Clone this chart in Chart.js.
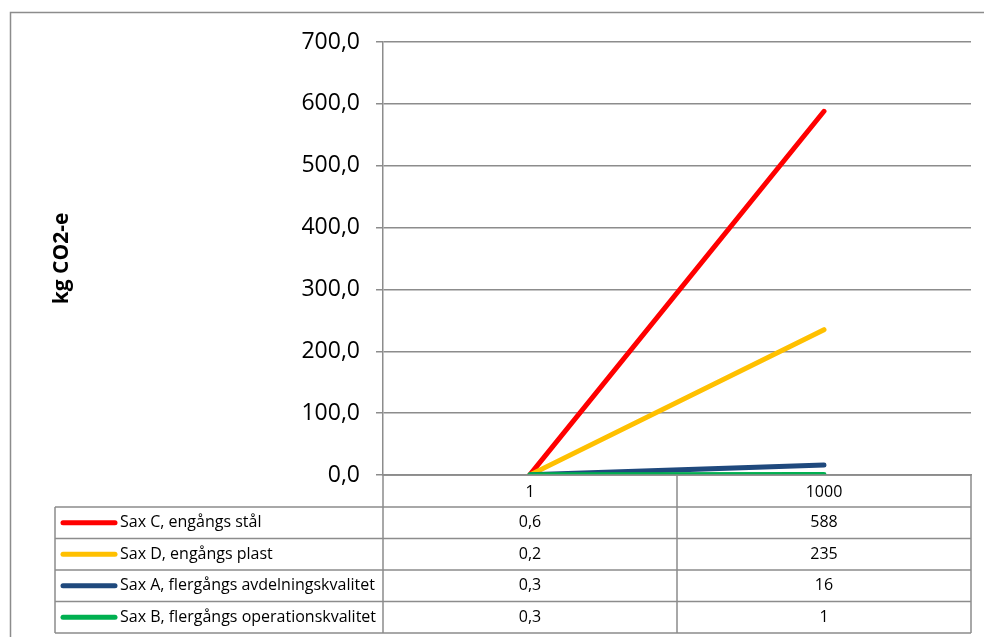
<!DOCTYPE html>
<html>
<head>
<meta charset="utf-8">
<script src="https://cdn.jsdelivr.net/npm/chart.js@4.4.0/dist/chart.umd.min.js"></script>
<style>
  body { margin: 0; background: #fff; }
  #wrap { width: 984px; height: 637px; position: relative; }
</style>
</head>
<body>
<div id="wrap"><canvas id="co2Chart"></canvas></div>
<script>
// ------------------ data ------------------
const categories = ['1', '1000'];
const seriesNames = [
    'Sax C, engångs stål',
    'Sax D, engångs plast',
    'Sax A, flergångs avdelningskvalitet',
    'Sax B, flergångs operationskvalitet'
];
const saxC = [0.6, 588];
const saxD = [0.2, 235];
const saxA = [0.3, 16];
const saxB = [0.3, 1];
const yTicks = [0, 100, 200, 300, 400, 500, 600, 700];

const seriesValues = [saxC, saxD, saxA, saxB];
const seriesColors = ['#FF0000', '#FFC000', '#1F497D', '#00B050'];

const gridGrey = '#8c8c8c';
const tableFont = '16px "Open Sans"';

// table value format: 0,6 / 588
function fmtCell(v) {
    return Number.isInteger(v) ? String(v) : v.toFixed(1).replace('.', ',');
}

// ------------------ data table under the plot (Excel style) ------------------
const dataTablePlugin = {
    id: 'dataTable',
    afterDraw(chart) {
        const c = chart.ctx;
        const area = chart.chartArea;
        const xs = chart.scales.x;
        const centers = categories.map((_, i) => xs.getPixelForValue(i));
        const cols = [area.left, (centers[0] + centers[1]) / 2, area.right];
        const labelLeft = 55;
        const headerTop = area.bottom;
        const headerH = 32;
        const rowH = 31.5;
        const bottom = headerTop + headerH + rowH * seriesNames.length;

        c.save();
        c.strokeStyle = gridGrey;
        c.lineWidth = 1.5;
        c.beginPath();
        // horizontals
        c.moveTo(cols[0], headerTop); c.lineTo(cols[2], headerTop);
        for (let r = 0; r <= seriesNames.length; r++) {
            const y = headerTop + headerH + r * rowH;
            c.moveTo(labelLeft, y); c.lineTo(cols[2], y);
        }
        // verticals
        c.moveTo(labelLeft, headerTop + headerH); c.lineTo(labelLeft, bottom);
        cols.forEach(x => { c.moveTo(x, headerTop); c.lineTo(x, bottom); });
        c.stroke();

        // outer frame of the chart object
        c.strokeRect(10.5, 12.5, 1000, 700);

        c.fillStyle = '#000';
        c.font = tableFont;
        c.textBaseline = 'middle';
        c.textAlign = 'center';
        categories.forEach((cat, i) => {
            c.fillText(cat, centers[i], headerTop + headerH / 2 + 1);
        });
        seriesNames.forEach((name, r) => {
            const yMid = headerTop + headerH + r * rowH + rowH / 2;
            // legend key
            c.strokeStyle = seriesColors[r];
            c.lineWidth = 5;
            c.lineCap = 'round';
            c.beginPath();
            c.moveTo(63, yMid); c.lineTo(115, yMid);
            c.stroke();
            c.textAlign = 'left';
            c.fillText(name, 120, yMid);
            c.textAlign = 'center';
            seriesValues[r].forEach((v, i) => c.fillText(fmtCell(v), centers[i], yMid));
        });
        c.restore();
    }
};

// ------------------ line chart ------------------
new Chart(document.getElementById('co2Chart').getContext('2d'), {
    type: 'line',
    data: {
        labels: categories,
        datasets: seriesNames.map((name, i) => ({
            label: name,
            data: seriesValues[i],
            borderColor: seriesColors[i],
            backgroundColor: seriesColors[i],
            borderWidth: 5,
            borderCapStyle: 'round',
            pointRadius: 0,
            tension: 0,
            order: seriesNames.length - 1 - i // last series drawn on top
        }))
    },
    options: {
        responsive: true,
        maintainAspectRatio: false,
        animation: false,
        layout: { padding: { top: 42, right: 13, bottom: 162, left: 0 } },
        plugins: {
            legend: { display: false },
            tooltip: { enabled: false }
        },
        scales: {
            x: {
                offset: true,
                grid: { display: false },
                border: { color: gridGrey, width: 1.5 },
                ticks: { display: false },
                afterFit: s => { s.height = 0; }
            },
            y: {
                min: 0,
                max: 700,
                afterBuildTicks: s => { s.ticks = yTicks.map(v => ({ value: v })); },
                afterFit: s => { s.width = 383; },
                border: { color: gridGrey, width: 1.5 },
                grid: { color: gridGrey, lineWidth: 1.5, tickLength: 7 },
                ticks: {
                    padding: 16,
                    color: '#000',
                    font: { family: 'Open Sans', size: 23 },
                    callback: v => v.toFixed(1).replace('.', ',')
                },
                title: {
                    display: true,
                    text: 'kg CO2-e',
                    color: '#000',
                    font: { family: 'Open Sans', size: 21, weight: 'bold' },
                    padding: { top: 49, bottom: 0 }
                }
            }
        }
    },
    plugins: [dataTablePlugin]
});
</script>
</body>
</html>
